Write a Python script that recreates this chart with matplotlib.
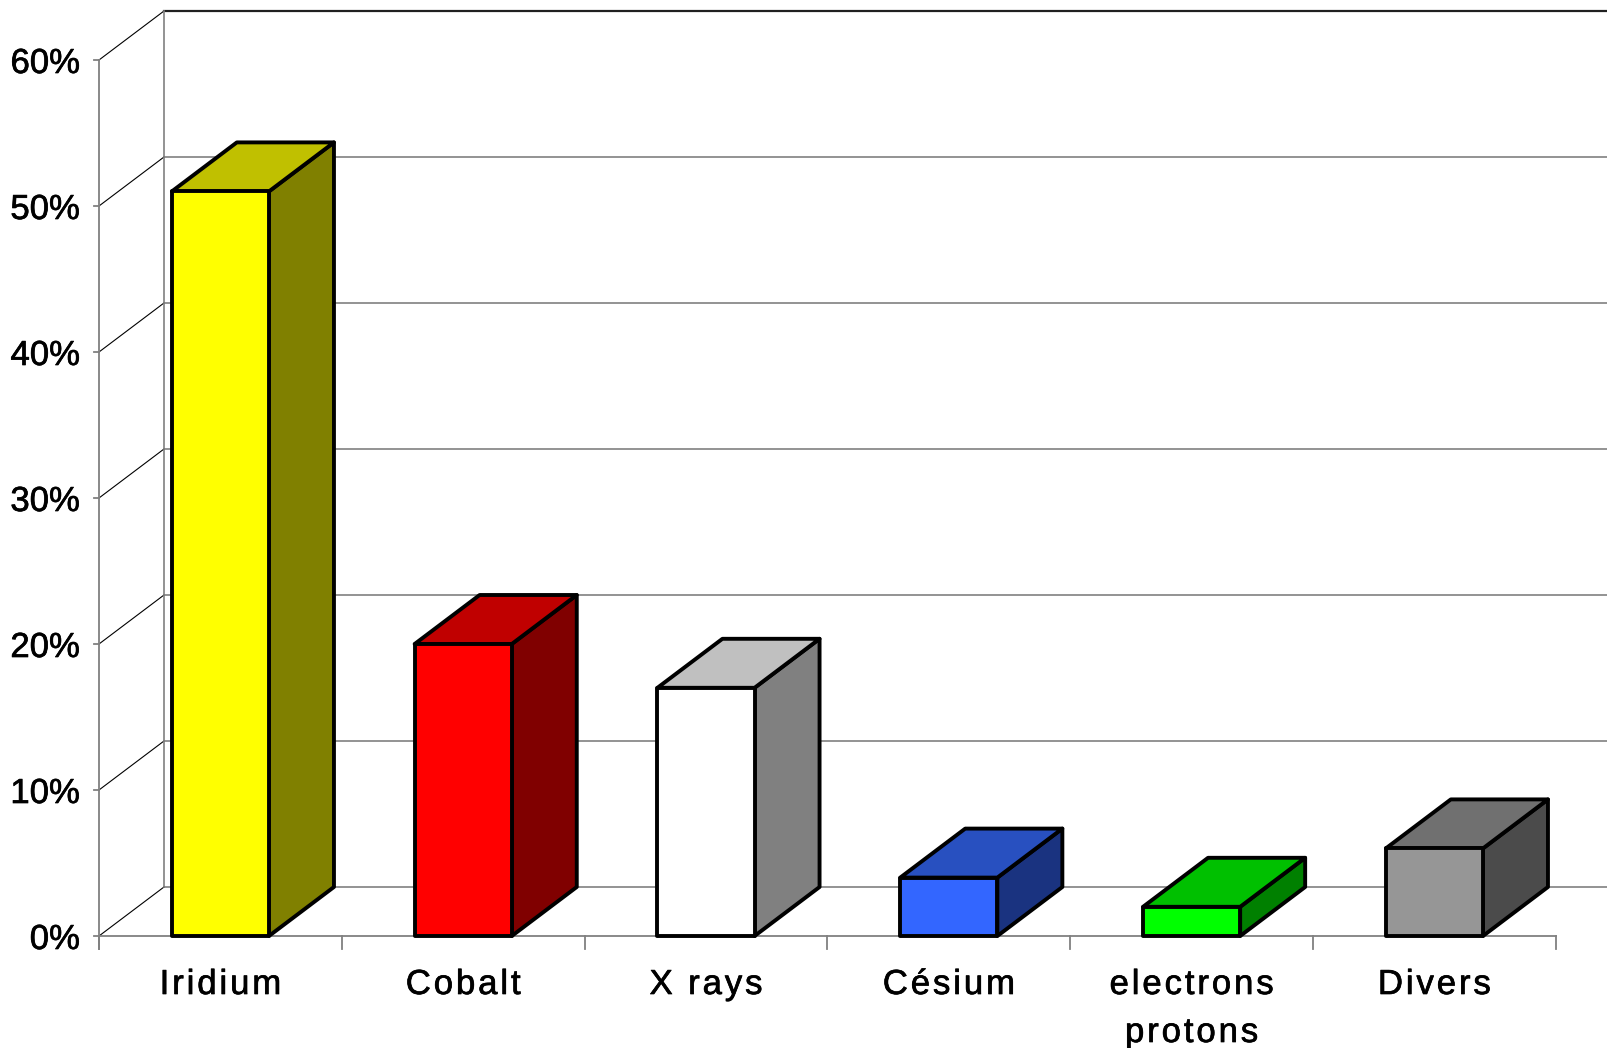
"""3D-style column chart of source types, drawn with plain matplotlib patches."""
import matplotlib
matplotlib.use("Agg")
import matplotlib.pyplot as plt
import matplotlib.patheffects as pe
from matplotlib.patches import Polygon

# chart data
categories = ["Iridium", "Cobalt", "X rays", "Césium", "electrons\nprotons", "Divers"]
shares = [0.51, 0.20, 0.17, 0.04, 0.02, 0.06]
y_ticks = [0.0, 0.1, 0.2, 0.3, 0.4, 0.5, 0.6]

# face colours: front, top, side
front_colors = ["#FFFF00", "#FF0000", "#FFFFFF", "#3366FF", "#00FF00", "#969696"]
top_colors = ["#C0C000", "#C00000", "#C0C0C0", "#2850C0", "#00C000", "#707070"]
side_colors = ["#808000", "#800000", "#808080", "#1A3380", "#008000", "#4B4B4B"]

W, H = 1607, 1048
fig = plt.figure(figsize=(W / 100, H / 100), dpi=100)
ax = fig.add_axes([0, 0, 1, 1])
ax.axis("off")

# one category = 242.8 px, 100% = 1460 px; origin of the front axis at (99, 936)
ux = 242.8
uy = 1460.0
ax.set_xlim(-99 / ux, (W - 99) / ux)
ax.set_ylim(-(H - 936) / uy, 936 / uy)

# depth of the 3D box (walls and bars share it)
dx = 65 / ux
dy = 49 / uy
bar_w = 0.40
ymax = y_ticks[-1]
x_end = len(categories)
far = x_end + 1

grid = "#808080"
# slightly heavier strokes for the labels
font = dict(fontsize=25, family="Liberation Sans", color="black",
            path_effects=[pe.withStroke(linewidth=0.5, foreground="black")])

# back wall gridlines
for v in y_ticks[:-1]:
    ax.plot([dx, far], [v + dy, v + dy], color=grid, lw=1.2, zorder=1)
ax.plot([dx, far], [ymax + dy, ymax + dy], color="#202020", lw=1.6, zorder=1)

# left wall: diagonals and the two verticals
for v in y_ticks:
    ax.plot([0, dx], [v, v + dy], color="black", lw=0.8, zorder=1)
ax.plot([dx, dx], [dy, ymax + dy], color=grid, lw=1.2, zorder=1)
ax.plot([0, 0], [-13 / uy, ymax], color=grid, lw=1.3, zorder=1)

# floor front edge, category ticks, value ticks
ax.plot([0, x_end], [0, 0], color=grid, lw=1.3, zorder=1)
for i in range(len(categories) + 1):
    ax.plot([i, i], [0, -13 / uy], color=grid, lw=1.3, zorder=1)
for v in y_ticks:
    ax.plot([-5 / ux, 0], [v, v], color=grid, lw=1.3, zorder=1)
    ax.text(-19 / ux, v, f"{v * 100:.0f}%", ha="right", va="center_baseline", **font)

# bars: side, top, then front face
edge = dict(edgecolor="black", lw=2.8, joinstyle="round", zorder=3)
for i, val in enumerate(shares):
    x0 = i + 0.5 - bar_w / 2
    x1 = x0 + bar_w
    side = [(x1, 0), (x1 + dx, dy), (x1 + dx, val + dy), (x1, val)]
    top = [(x0, val), (x0 + dx, val + dy), (x1 + dx, val + dy), (x1, val)]
    front = [(x0, 0), (x1, 0), (x1, val), (x0, val)]
    ax.add_patch(Polygon(side, closed=True, facecolor=side_colors[i], **edge))
    ax.add_patch(Polygon(top, closed=True, facecolor=top_colors[i], **edge))
    ax.add_patch(Polygon(front, closed=True, facecolor=front_colors[i], **edge))

# category labels, one text per line, loosely tracked with hair spaces
base = -58 / uy
step = 48 / uy
for i, label in enumerate(categories):
    for j, line in enumerate(label.split("\n")):
        spaced = "\u200a".join(line)
        ax.text(i + 0.5, base - j * step, spaced, ha="center", va="baseline", **font)

fig.savefig("out.png", dpi=100)
